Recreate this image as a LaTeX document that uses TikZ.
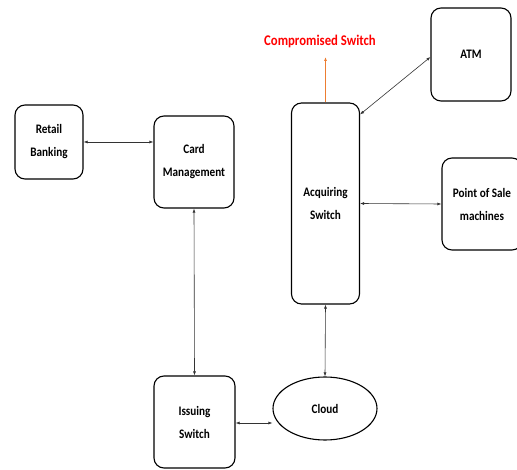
\documentclass[tikz,border=0pt]{standalone}
\usepackage{fontspec}
\setmainfont{Carlito}
\newfontfamily\lblfont{Carlito}[FakeStretch=0.86]
\usetikzlibrary{arrows.meta,shapes.geometric}
\definecolor{offorange}{RGB}{237,125,49}
\definecolor{compred}{RGB}{255,0,0}
\tikzset{
  box/.style={draw=black, line width=1.1pt, rounded corners=10pt, align=center,
    font=\lblfont\fontsize{13}{23}\selectfont\bfseries, inner sep=0pt},
  oval/.style={draw=black, line width=1.1pt, ellipse, inner sep=0pt,
    font=\lblfont\fontsize{13}{23}\selectfont\bfseries},
  link/.style={draw=black!80, line width=0.6pt, {Latex[length=4pt,width=3pt]}-{Latex[length=4pt,width=3pt]}},
  flag/.style={draw=offorange, line width=0.8pt, -{Latex[length=4pt,width=3pt]}},
}
\begin{document}
\begin{tikzpicture}[x=1pt,y=-1pt]
\useasboundingbox[fill=white] (0,0) rectangle (517,470);
\node[box, minimum width=68pt, minimum height=74pt] (retail) at (49,142) {Retail\\Banking};
\node[box, minimum width=80pt, minimum height=92pt] (card) at (194,162) {Card\\Management};
\node[box, minimum width=81pt, minimum height=92pt] (issuing) at (194.5,422) {Issuing\\Switch};
\node[box, minimum width=68pt, minimum height=201pt] (acq) at (325.5,203.5) {Acquiring\\Switch};
\node[box, minimum width=80pt, minimum height=93pt] (atm) at (471,54.5) {ATM};
\node[box, minimum width=80pt, minimum height=92pt] (pos) at (482,204) {Point of Sale\\machines};
\node[oval, minimum width=104pt, minimum height=63pt] (cloud) at (325,408.5) {Cloud};
\node[font=\lblfont\fontsize{14.8}{17}\selectfont\bfseries, text=compred] (comp) at (320,41) {Compromised Switch};
\coordinate (ctip) at (325.5,57);

\draw[link] (retail.east) -- (retail.east -| card.west);
\draw[link] (card.south) -- (issuing.north);
\draw[link] ([yshift=-1pt]issuing.east) -- ([yshift=-1pt]issuing.east -| cloud.west);
\draw[link] (acq.south) -- (cloud.north);
\draw[link] (acq.east) -- (pos.west);
\draw[link] ([yshift=-12pt]acq.north east) -- ([yshift=-2.5pt]atm.west);
\draw[flag] (acq.north) -- (ctip);
\end{tikzpicture}
\end{document}
